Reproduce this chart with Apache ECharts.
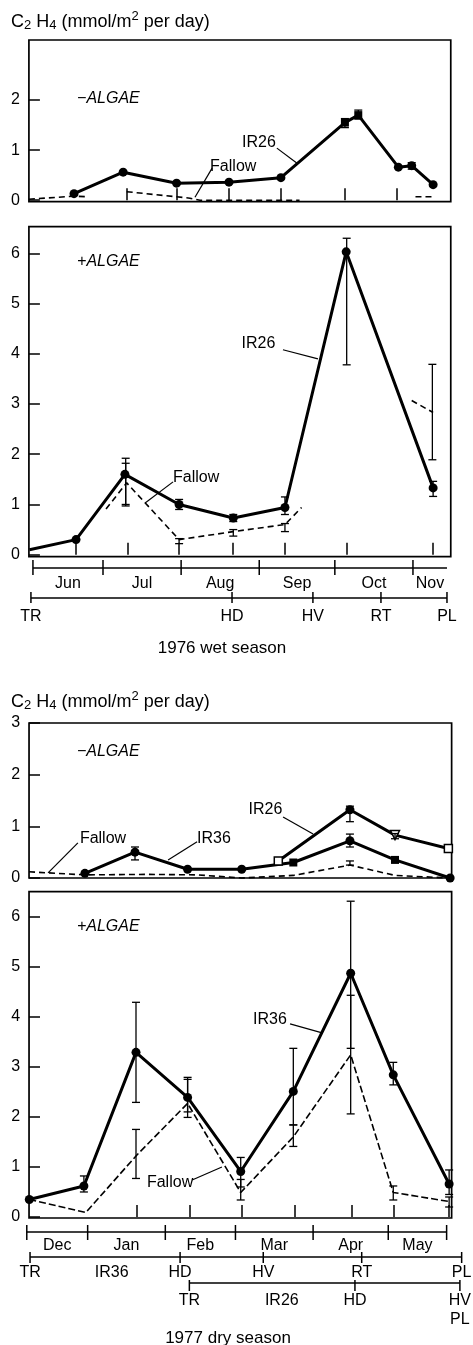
<!DOCTYPE html>
<html><head><meta charset="utf-8">
<script src="https://cdn.jsdelivr.net/npm/echarts@6/dist/echarts.min.js"></script>
<style>html,body{margin:0;padding:0;background:#fff}#c{width:473px;height:1345px}</style>
</head><body><div id="c"></div>
<script>
// ================= DATA =================
// 1976 wet season: x = day number (0 = 1 June 1976)
const wetMonthNames = ['Jun', 'Jul', 'Aug', 'Sep', 'Oct', 'Nov'];
const wetMonthBounds = [2.2, 30, 61, 92, 122, 153, 166.5];
const wetStageNames = ['TR', 'HD', 'HV', 'RT', 'PL'];
const wetStageDays = [1.4, 81.2, 113.3, 140.3, 166.5];

const wetMinusIR26 = [[18.5,0.13],[38,0.56],[59.2,0.34],[80,0.36],[100.6,0.45],[126,1.55],[131.3,1.70],[147.2,0.66],[152.5,0.69],[161,0.31]];
const wetMinusIR26Marks = ['dot','dot','dot','dot','dot','square','square','dot','dot','dot'];
const wetMinusIR26Err = [[126,1.45,1.63],[131.3,1.62,1.8],[152.5,0.62,0.75]];
const wetMinusFallow = [
  [[0.6,0.02],[18.5,0.08],[23.6,0.07]],
  [[39.4,0.17],[64.5,0.04],[68.5,0.0],[108,0.0]],
  [[154,0.07],[161,0.07]]
];
const wetMinusSampling = [39.4, 59.2, 80, 100.6, 126, 146.7];

const wetPlusIR26 = [[0.8,0.1],[19.3,0.3],[38.7,1.6],[60.2,1.0],[81.7,0.73],[102.2,0.94],[126.5,6.03],[161,1.33]];
const wetPlusIR26Marks = ['none','dot','dot','dot','dot','dot','dot','dot'];
const wetPlusIR26Err = [[39,0.97,1.92],[60.2,0.9,1.1],[81.7,0.66,0.8],[102.2,0.8,1.15],[126.7,3.78,6.3],[161,1.16,1.46]];
const wetPlusFallow = [
  [[31.2,0.91],[39.4,1.43],[60.2,0.3],[81.7,0.46],[102.2,0.6],[108.8,0.94]],
  [[152.5,3.07],[161,2.83]]
];
const wetPlusFallowErr = [[39,1.0,1.82],[60.2,0.22,0.32],[81.7,0.37,0.5],[102.2,0.46,0.62],[160.7,1.89,3.79]];
const wetPlusSampling = [19.3, 39.8, 60.2, 81.4, 102.2, 126.7, 161];

// 1977 dry season: x = day number (0 = 1 Dec 1976)
const dryMonthNames = ['Dec', 'Jan', 'Feb', 'Mar', 'Apr', 'May'];
const dryMonthBounds = [6.7, 31, 62, 90, 121, 151, 174.3];
const dryIR36StageNames = ['TR', 'HD', 'HV', 'RT', 'PL'];
const dryIR36StageDays = [8.0, 67.9, 101.1, 140.4, 180.3];
const dryIR26StageNames = ['TR', 'HD', 'HV\nPL'];
const dryIR26StageDays = [71.6, 137.7, 179.6];

const dryMinusIR36 = [[29.9,0.09],[49.9,0.5],[70.9,0.17],[92.5,0.17],[113.1,0.3],[135.7,0.72],[153.7,0.35],[175.7,0.0]];
const dryMinusIR36Marks = ['dot','dot','dot','dot','square','dot','square','dot'];
const dryMinusIR36Err = [[49.9,0.35,0.6],[135.7,0.6,0.85]];
const dryMinusIR26 = [[107.1,0.33],[135.7,1.32],[153.7,0.83],[175,0.57]];
const dryMinusIR26Marks = ['openSquare','dot','openTriangle','openSquare'];
const dryMinusIR26Err = [[135.7,1.09,1.39],[153.7,0.76,0.86]];
const dryMinusFallow = [
  [[7.6,0.12],[29.9,0.06],[55,0.07],[75,0.06],[92.5,0.0],[113.1,0.05],[135.7,0.25],[153.7,0.05],[175.7,0.0]]
];
const dryMinusFallowErr = [[135.7,0.25,0.33]];

const dryPlusIR36 = [[7.7,0.35],[29.5,0.62],[50.3,3.29],[70.9,2.39],[92.1,0.91],[113.1,2.51],[136,4.87],[153,2.84],[175.3,0.66]];
const dryPlusIR36Err = [[29.5,0.5,0.82],[50.3,2.29,4.29],[70.9,1.99,2.75],[92.1,0.6,1.19],[113.1,1.84,3.37],[136,3.37,6.31],[153,2.64,3.09],[175.3,0.45,0.94]];
const dryPlusFallow = [
  [[7.7,0.35],[30.3,0.09],[50.3,1.22],[70.9,2.27],[92.1,0.49],[113.1,1.6],[136,3.24],[153,0.49],[175.3,0.31]]
];
const dryPlusFallowErr = [[50.3,0.77,1.75],[70.9,2.1,2.79],[92.1,0.34,0.75],[113.1,1.41,1.84],[136,2.06,4.43],[153,0.34,0.62],[175.3,0.2,0.4]];
const dryPlusSampling = [50.6, 71.9, 92.7, 113.5, 136.4, 153, 175];

const yTicks3 = [0, 1, 2];
const yTicks3b = [0, 1, 2, 3];
const yTicks6 = [0, 1, 2, 3, 4, 5, 6];

// ================= LAYOUT / STYLE =================
const FONT = '"Liberation Sans", Arial, sans-serif';
const WET = { x0: 27.4, k: 2.52 };   // pixel = x0 + k * day
const DRY = { x0: 10, k: 2.505 };

const MARK = {
  none: { symbol: 'none' },
  dot: { symbol: 'circle', symbolSize: 9, itemStyle: { color: '#000' } },
  square: { symbol: 'rect', symbolSize: 8, itemStyle: { color: '#000' } },
  openSquare: { symbol: 'rect', symbolSize: 8, itemStyle: { color: '#fff', borderColor: '#000', borderWidth: 1.5 } },
  openTriangle: { symbol: 'triangle', symbolRotate: 180, symbolSize: 9, itemStyle: { color: '#fff', borderColor: '#000', borderWidth: 1.5 } }
};

const grids = [], xAxes = [], yAxes = [], series = [];

function addPanel(c) {
  const gi = grids.length;
  grids.push({ left: c.s.x0 + c.s.k * c.xmin, width: c.s.k * (c.xmax - c.xmin), top: c.top, height: c.height,
    show: true, borderColor: '#000', borderWidth: 1.7, backgroundColor: 'transparent', containLabel: false });
  xAxes.push({ gridIndex: gi, type: 'value', min: c.xmin, max: c.xmax,
    axisLine: { show: false }, splitLine: { show: false }, axisLabel: { show: false },
    axisTick: c.sampling ? { show: true, inside: true, length: 12, customValues: c.sampling, lineStyle: { color: '#000', width: 1.5 } } : { show: false } });
  yAxes.push({ gridIndex: gi, type: 'value', min: c.ymin, max: c.ymax,
    axisLine: { show: false }, splitLine: { show: false },
    axisTick: { show: true, inside: true, length: 11, customValues: c.yTicks, lineStyle: { color: '#000', width: 1.5 } },
    axisLabel: { show: true, customValues: c.yTicks, color: '#000', fontSize: 16, fontFamily: FONT, margin: 9 } });
  return gi;
}

function addSolid(gi, pts, marks) {
  series.push({ type: 'line', xAxisIndex: gi, yAxisIndex: gi, clip: false, z: 4,
    data: pts.map((p, i) => Object.assign({ value: p }, MARK[marks ? marks[i] : 'dot'])),
    showSymbol: true, lineStyle: { color: '#000', width: 3 } });
}
function addDashed(gi, segs, dash) {
  segs.forEach(seg => series.push({ type: 'line', xAxisIndex: gi, yAxisIndex: gi, clip: false, z: 3,
    data: seg, symbol: 'none', lineStyle: { color: '#000', width: 1.6, type: dash || [6, 4] } }));
}
function addErr(gi, bars) {
  series.push({ type: 'custom', xAxisIndex: gi, yAxisIndex: gi, data: bars, z: 5, silent: true,
    encode: { x: 0, y: [1, 2] },
    renderItem: (p, api) => {
      const x = api.value(0), a = api.coord([x, api.value(1)]), b = api.coord([x, api.value(2)]);
      const st = { stroke: '#000', lineWidth: 1.3 };
      return { type: 'group', children: [
        { type: 'line', shape: { x1: a[0], y1: a[1], x2: b[0], y2: b[1] }, style: st },
        { type: 'line', shape: { x1: a[0] - 4, y1: a[1], x2: a[0] + 4, y2: a[1] }, style: st },
        { type: 'line', shape: { x1: b[0] - 4, y1: b[1], x2: b[0] + 4, y2: b[1] }, style: st }
      ] };
    } });
}
function addNotes(gi, notes, leaders) {
  series.push({ type: 'custom', xAxisIndex: gi, yAxisIndex: gi, data: notes.map(n => [n[1], n[2]]), z: 6, silent: true,
    renderItem: (p, api) => {
      const n = notes[p.dataIndex];
      const c = api.coord([api.value(0), api.value(1)]);
      return { type: 'text', style: { text: n[0], x: c[0], y: c[1], fill: '#000',
        font: (n[4] ? 'italic ' : '') + '16px ' + FONT, align: n[3], textAlign: n[3], verticalAlign: 'middle', textVerticalAlign: 'middle' } };
    } });
  series.push({ type: 'custom', xAxisIndex: gi, yAxisIndex: gi, data: leaders, z: 6, silent: true,
    encode: { x: [0, 2], y: [1, 3] },
    renderItem: (p, api) => {
      const a = api.coord([api.value(0), api.value(1)]), b = api.coord([api.value(2), api.value(3)]);
      return { type: 'line', shape: { x1: a[0], y1: a[1], x2: b[0], y2: b[1] }, style: { stroke: '#000', lineWidth: 1.2 } };
    } });
}
function addRow(c) {
  const gi = grids.length;
  grids.push({ left: c.s.x0 + c.s.k * c.xmin, width: c.s.k * (c.xmax - c.xmin), top: c.y - 10, height: 20, show: false });
  xAxes.push({ gridIndex: gi, type: 'value', min: c.xmin, max: c.xmax, show: false });
  yAxes.push({ gridIndex: gi, type: 'value', min: -1, max: 1, show: false });
  series.push({ type: 'line', xAxisIndex: gi, yAxisIndex: gi, clip: false, data: [[c.from, 0], [c.to, 0]],
    symbol: 'none', lineStyle: { color: '#000', width: 1.5 } });
  series.push({ type: 'custom', xAxisIndex: gi, yAxisIndex: gi, data: c.ticks.map(d => [d, 0]), silent: true,
    renderItem: (p, api) => {
      const q = api.coord([api.value(0), 0]);
      return { type: 'line', shape: { x1: q[0], y1: q[1] - c.up, x2: q[0], y2: q[1] + c.down }, style: { stroke: '#000', lineWidth: 1.5 } };
    } });
  series.push({ type: 'custom', xAxisIndex: gi, yAxisIndex: gi, data: c.labels.map(l => [l[1], 0]), silent: true,
    renderItem: (p, api) => {
      const q = api.coord([api.value(0), 0]);
      return { type: 'text', style: { text: c.labels[p.dataIndex][0], x: q[0], y: q[1] + c.dy, fill: '#000',
        font: '16px ' + FONT, lineHeight: 19, align: 'center', textAlign: 'center', verticalAlign: 'top', textVerticalAlign: 'top' } };
    } });
}
const mids = (b, names) => names.map((n, i) => [n, (b[i] + b[i + 1]) / 2]);
const zipL = (names, days) => names.map((n, i) => [n, days[i]]);

// ---- Panel 1: wet, -algae ----
const p1 = addPanel({ s: WET, xmin: 0.6, xmax: 168, top: 40, height: 161.7, ymin: -0.03, ymax: 3.2, yTicks: yTicks3, sampling: wetMinusSampling });
addDashed(p1, wetMinusFallow);
addErr(p1, wetMinusIR26Err);
addSolid(p1, wetMinusIR26, wetMinusIR26Marks);
addNotes(p1, [['\u2212ALGAE', 19.7, 2.04, 'left', true], ['IR26', 91.9, 1.16, 'center'], ['Fallow', 72.5, 0.68, 'left']],
  [[99, 1.04, 107, 0.74], [73.3, 0.64, 66.5, 0.06]]);

// ---- Panel 2: wet, +algae ----
const p2 = addPanel({ s: WET, xmin: 0.6, xmax: 168, top: 226.7, height: 330, ymin: -0.04, ymax: 6.53, yTicks: yTicks6, sampling: wetPlusSampling });
addDashed(p2, wetPlusFallow);
addErr(p2, wetPlusFallowErr);
addErr(p2, wetPlusIR26Err);
addSolid(p2, wetPlusIR26, wetPlusIR26Marks);
addNotes(p2, [['+ALGAE', 19.7, 5.83, 'left', true], ['IR26', 91.7, 4.21, 'center'], ['Fallow', 57.8, 1.53, 'left']],
  [[101.4, 4.08, 115.3, 3.9], [57.8, 1.45, 46.7, 1.03]]);

// wet timelines
addRow({ s: WET, xmin: 0, xmax: 168, y: 568, from: wetMonthBounds[0], to: wetMonthBounds[6],
  ticks: wetMonthBounds.slice(0, 6), labels: mids(wetMonthBounds, wetMonthNames), up: 8, down: 7, dy: 6 });
addRow({ s: WET, xmin: 0, xmax: 168, y: 598, from: wetStageDays[0], to: wetStageDays[4],
  ticks: wetStageDays, labels: zipL(wetStageNames, wetStageDays), up: 6, down: 5, dy: 9 });

// ---- Panel 3: dry, -algae ----
const p3 = addPanel({ s: DRY, xmin: 7.6, xmax: 176.3, top: 723, height: 155, ymin: 0, ymax: 3, yTicks: yTicks3b, sampling: null });
addDashed(p3, dryMinusFallow);
addErr(p3, dryMinusFallowErr);
addErr(p3, dryMinusIR36Err);
addErr(p3, dryMinusIR26Err);
addSolid(p3, dryMinusIR36, dryMinusIR36Marks);
addSolid(p3, dryMinusIR26, dryMinusIR26Marks);
addNotes(p3, [['\u2212ALGAE', 26.7, 2.44, 'left', true], ['IR26', 102, 1.32, 'center'], ['Fallow', 27.9, 0.77, 'left'], ['IR36', 74.7, 0.77, 'left']],
  [[109, 1.18, 121, 0.85], [27.1, 0.68, 15.2, 0.1], [74.7, 0.7, 63.1, 0.35]]);

// ---- Panel 4: dry, +algae ----
const p4 = addPanel({ s: DRY, xmin: 7.6, xmax: 176.3, top: 891.7, height: 326.3, ymin: -0.02, ymax: 6.5, yTicks: yTicks6, sampling: dryPlusSampling });
addDashed(p4, dryPlusFallow, [7, 3]);
addErr(p4, dryPlusFallowErr);
addErr(p4, dryPlusIR36Err);
addSolid(p4, dryPlusIR36);
addNotes(p4, [['+ALGAE', 26.7, 5.8, 'left', true], ['IR36', 103.8, 3.94, 'center'], ['Fallow', 63.9, 0.68, 'center']],
  [[111.8, 3.86, 124.6, 3.68], [72.7, 0.74, 84.6, 1.0]]);

// dry timelines
addRow({ s: DRY, xmin: 4, xmax: 183, y: 1232, from: dryMonthBounds[0], to: dryMonthBounds[6],
  ticks: dryMonthBounds, labels: mids(dryMonthBounds, dryMonthNames), up: 7, down: 8, dy: 4 });
addRow({ s: DRY, xmin: 4, xmax: 183, y: 1257, from: dryIR36StageDays[0], to: dryIR36StageDays[4],
  ticks: dryIR36StageDays, labels: zipL(dryIR36StageNames, dryIR36StageDays).concat([['IR36', 40.6]]), up: 5, down: 6, dy: 6 });
addRow({ s: DRY, xmin: 4, xmax: 183, y: 1283, from: dryIR26StageDays[0], to: dryIR26StageDays[2],
  ticks: dryIR26StageDays, labels: zipL(dryIR26StageNames, dryIR26StageDays).concat([['IR26', 108.5]]), up: 3, down: 8, dy: 8 });

const titleRich = {
  n: { fontSize: 18, fontFamily: FONT, fill: '#000', color: '#000' },
  s: { fontSize: 13, fontFamily: FONT, fill: '#000', color: '#000', padding: [7, 0, 0, 0] },
  p: { fontSize: 13, fontFamily: FONT, fill: '#000', color: '#000', padding: [0, 0, 12, 0] }
};
const titleText = '{n|C}{s|2}{n| H}{s|4}{n| (mmol/m}{p|2}{n| per day)}';

const chart = echarts.init(document.getElementById('c'), null, { renderer: 'canvas' });
chart.setOption({
  backgroundColor: '#fff',
  animation: false,
  grid: grids, xAxis: xAxes, yAxis: yAxes, series: series,
  graphic: [
    { type: 'text', x: 11, y: 22, style: { text: titleText, rich: titleRich, verticalAlign: 'middle', textVerticalAlign: 'middle', fill: '#000' } },
    { type: 'text', x: 11, y: 702, style: { text: titleText, rich: titleRich, verticalAlign: 'middle', textVerticalAlign: 'middle', fill: '#000' } },
    { type: 'text', x: 222, y: 648, style: { text: '1976 wet season', font: '17px ' + FONT, fill: '#000', align: 'center', textAlign: 'center', verticalAlign: 'middle', textVerticalAlign: 'middle' } },
    { type: 'text', x: 228, y: 1338, style: { text: '1977 dry season', font: '17px ' + FONT, fill: '#000', align: 'center', textAlign: 'center', verticalAlign: 'middle', textVerticalAlign: 'middle' } }
  ]
});
</script></body></html>
